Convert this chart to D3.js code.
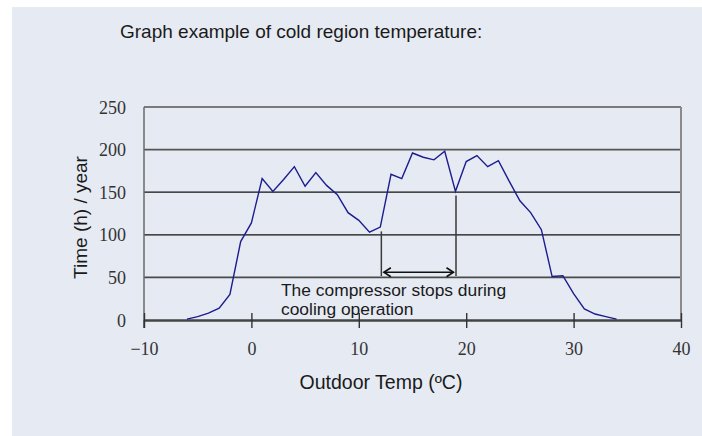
<!DOCTYPE html>
<html>
<head>
<meta charset="utf-8">
<script src="https://cdn.jsdelivr.net/npm/d3@7"></script>
<style>
  html, body { margin: 0; padding: 0; background: #ffffff; }
  svg { display: block; }
</style>
</head>
<body>
<svg id="chart" width="702" height="436"></svg>
<script>
// Outdoor temperature (ºC) and hours per year at that temperature
const temps = [-6, -5, -4, -3, -2, -1, 0, 1, 2, 3, 4, 5, 6, 7, 8, 9, 10, 11, 12, 13, 14,
               15, 16, 17, 18, 19, 20, 21, 22, 23, 24, 25, 26, 27, 28, 29, 30, 31, 32, 33, 34];
const hours = [1, 4, 8, 14, 30, 92, 114, 166, 151, 165, 180, 157, 173, 158, 147, 126, 117, 103, 109, 171, 166,
               196, 191, 188, 198, 151, 186, 193, 180, 187, 163, 140, 126, 106, 51, 52, 31, 13, 7, 4, 1];

const xTicks = [-10, 0, 10, 20, 30, 40];
const yTicks = [0, 50, 100, 150, 200, 250];

// Range where the compressor stops during cooling (ºC)
const stopRange = [12.1, 19.05];
const stopTops = [104, 146];

const titleText = "Graph example of cold region temperature:";
const xTitle = "Outdoor Temp (ºC)";
const yTitle = "Time (h) / year";
const noteLines = ["The compressor stops during", "cooling operation"];

const svg = d3.select("#chart");

svg.append("rect")
  .attr("x", 12).attr("y", 7)
  .attr("width", 690).attr("height", 429)
  .attr("fill", "#e6eaf3");

const x = d3.scaleLinear().domain([-10, 40]).range([144, 681]);
const y = d3.scaleLinear().domain([0, 250]).range([320, 107]);

// Horizontal gridlines
const gridStyle = {
  50: { c: "#4a4a4a", w: 1.6 },
  100: { c: "#111111", w: 1.3 },
  150: { c: "#111111", w: 1.3 },
  200: { c: "#555555", w: 1.6 },
  250: { c: "#7a7a7a", w: 2 }
};
svg.append("g").selectAll("line")
  .data(yTicks.filter(d => d > 0))
  .join("line")
  .attr("x1", x(-10)).attr("x2", x(40))
  .attr("y1", d => y(d)).attr("y2", d => y(d))
  .attr("stroke", d => gridStyle[d].c)
  .attr("stroke-width", d => gridStyle[d].w);

// Right border of the plot
svg.append("line")
  .attr("x1", x(40)).attr("x2", x(40))
  .attr("y1", y(250)).attr("y2", y(0))
  .attr("stroke", "#8a8a8a").attr("stroke-width", 2);

// Left axis line
svg.append("line")
  .attr("x1", x(-10)).attr("x2", x(-10))
  .attr("y1", y(250)).attr("y2", y(0))
  .attr("stroke", "#6a6a6a").attr("stroke-width", 1.5);

// Bottom axis with ticks crossing the line
const xAxis = d3.axisBottom(x)
  .tickValues(xTicks)
  .tickSize(0)
  .tickFormat(d => d < 0 ? "\u2212" + Math.abs(d) : String(d));

const gx = svg.append("g")
  .attr("transform", `translate(0,${y(0)})`)
  .call(xAxis);
gx.select(".domain").attr("stroke", "#444").attr("stroke-width", 2.4);
gx.selectAll(".tick line").remove();
gx.selectAll(".tick").append("line")
  .attr("y1", -7).attr("y2", 8)
  .attr("stroke", "#333").attr("stroke-width", 1.4);
gx.selectAll(".tick text")
  .attr("y", 0).attr("dy", 0)
  .attr("transform", "translate(0,35)")
  .attr("fill", "#333")
  .style("font-family", "'Liberation Serif', 'Times New Roman', serif")
  .style("font-size", "18px");

// Left axis labels
const yAxis = d3.axisLeft(y).tickValues(yTicks).tickSize(0).tickPadding(0);
const gy = svg.append("g")
  .attr("transform", `translate(${x(-10) - 18},0)`)
  .call(yAxis);
gy.select(".domain").remove();
gy.selectAll(".tick text")
  .attr("x", 0).attr("dy", "0.34em")
  .attr("fill", "#333")
  .style("font-family", "'Liberation Serif', 'Times New Roman', serif")
  .style("font-size", "18px");
// Short tick at the origin
svg.append("line")
  .attr("x1", x(-10)).attr("x2", x(-10))
  .attr("y1", y(0)).attr("y2", y(0) + 8)
  .attr("stroke", "#333").attr("stroke-width", 1.4);

// Data line
const line = d3.line()
  .x((d, i) => x(temps[i]))
  .y(d => y(d));
svg.append("path")
  .datum(hours)
  .attr("d", line)
  .attr("fill", "none")
  .attr("stroke", "#1c1c8e")
  .attr("stroke-width", 1.4)
  .attr("stroke-linejoin", "miter");

// Annotation: vertical markers and double-headed arrow
const markBottom = 51.5;
const arrowLevel = 56;
svg.append("g").selectAll("line")
  .data(stopRange)
  .join("line")
  .attr("x1", d => x(d)).attr("x2", d => x(d))
  .attr("y1", (d, i) => y(stopTops[i])).attr("y2", y(markBottom))
  .attr("stroke", "#3a3a3a").attr("stroke-width", 1.5);

const ax1 = x(stopRange[0]) + 2.5, ax2 = x(stopRange[1]) - 2.5, ay = y(arrowLevel);
svg.append("line")
  .attr("x1", ax1).attr("x2", ax2)
  .attr("y1", ay).attr("y2", ay)
  .attr("stroke", "#111").attr("stroke-width", 1.5);
svg.append("path")
  .attr("d", `M${ax1 + 7},${ay - 4.5}L${ax1},${ay}L${ax1 + 7},${ay + 4.5}` +
             `M${ax2 - 7},${ay - 4.5}L${ax2},${ay}L${ax2 - 7},${ay + 4.5}`)
  .attr("fill", "none")
  .attr("stroke", "#111").attr("stroke-width", 1.6);

svg.append("g").selectAll("text")
  .data(noteLines)
  .join("text")
  .attr("x", 281)
  .attr("y", (d, i) => 296 + i * 19)
  .attr("fill", "#1a1a1a")
  .style("font-family", "'Liberation Sans', Arial, sans-serif")
  .style("font-size", "17.4px")
  .text(d => d);

// Titles
svg.append("text")
  .attr("x", 120).attr("y", 38)
  .attr("fill", "#1a1a1a")
  .style("font-family", "'Liberation Sans', Arial, sans-serif")
  .style("font-size", "19px")
  .text(titleText);

svg.append("text")
  .attr("x", 381).attr("y", 389)
  .attr("text-anchor", "middle")
  .attr("fill", "#1a1a1a")
  .style("font-family", "'Liberation Sans', Arial, sans-serif")
  .style("font-size", "19.5px")
  .text(xTitle);

svg.append("text")
  .attr("transform", `translate(87,${(y(0) + y(250)) / 2 + 4}) rotate(-90)`)
  .attr("text-anchor", "middle")
  .attr("fill", "#1a1a1a")
  .style("font-family", "'Liberation Sans', Arial, sans-serif")
  .style("font-size", "19px")
  .text(yTitle);
</script>
</body>
</html>
